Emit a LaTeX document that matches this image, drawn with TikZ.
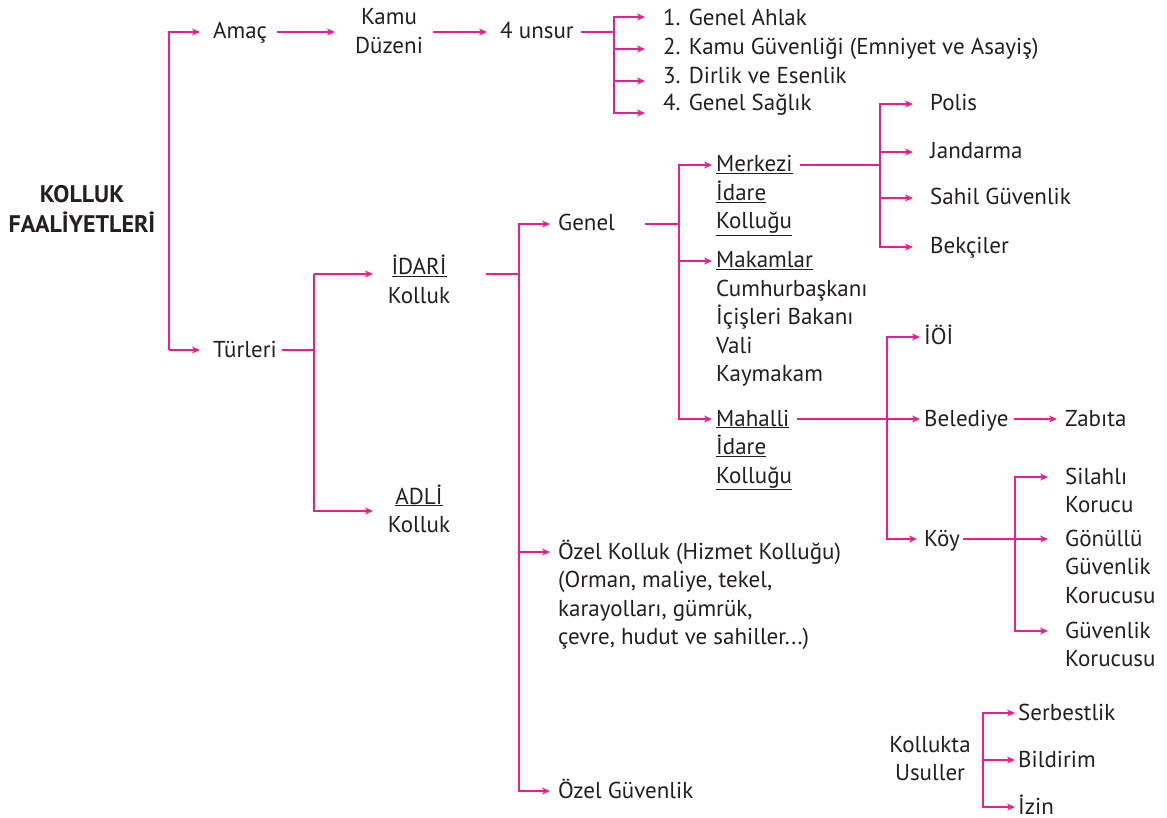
\documentclass[tikz,border=0pt]{standalone}
\usepackage{fontspec}
\setmainfont{PT Sans}
\usetikzlibrary{arrows.meta}
\definecolor{pk}{RGB}{234,30,140}
\definecolor{ink}{RGB}{35,31,32}
\newcommand\mlines[2]{\begin{tabular}[t]{@{}#1@{}}#2\end{tabular}}
\begin{document}
\begin{tikzpicture}[x=1pt,y=-1pt,
  lnk/.style={draw=pk,line width=1.5pt},
  arr/.style={lnk,-{Stealth[length=8pt,width=7pt,inset=2.5pt]}},
  txt/.style={inner sep=0pt,anchor=west,text height=14pt,text depth=0pt,text=ink,font=\fontsize{23}{28.5}\selectfont},
  ctxt/.style={txt,anchor=center}]
\useasboundingbox (0,0) rectangle (1167,818);
% texts
\node[ctxt,font=\bfseries\fontsize{24}{28.5}\selectfont] (title) at (82,196) {\mlines{c}{KOLLUK\\FAALİYETLERİ}};
\node[txt] (amac) at (213,32) {Amaç};
\node[ctxt] (kamu) at (389,18) {\mlines{c}{Kamu\\Düzeni}};
\node[txt] (unsur) at (500,32) {4 unsur};
\node[txt] (i1) at (663,19) {1. Genel Ahlak};
\node[txt] (i2) at (663,48) {2. Kamu Güvenliği (Emniyet ve Asayiş)};
\node[txt] (i3) at (663,77) {3. Dirlik ve Esenlik};
\node[txt] (i4) at (663,104) {4. Genel Sağlık};
\node[txt] (tur) at (213,350) {Türleri};
\node[ctxt] (idari) at (419,268) {\mlines{c}{\underline{İDARİ}\\Kolluk}};
\node[ctxt] (adli) at (419,497) {\mlines{c}{\underline{ADLİ}\\Kolluk}};
\node[txt] (genel) at (558,224) {Genel};
\node[txt] (merkez) at (716,165) {\mlines{l}{\underline{Merkezi}\\\underline{İdare}\\\underline{Kolluğu}}};
\node[txt] (makam) at (716,261) {\mlines{l}{\underline{Makamlar}\\Cumhurbaşkanı\\İçişleri Bakanı\\Vali\\Kaymakam}};
\node[txt] (mahalli) at (716,419) {\mlines{l}{\underline{Mahalli}\\\underline{İdare}\\\underline{Kolluğu}}};
\node[txt] (polis) at (930,104) {Polis};
\node[txt] (jand) at (930,152) {Jandarma};
\node[txt] (sahil) at (930,198) {Sahil Güvenlik};
\node[txt] (bekci) at (930,247) {Bekçiler};
\node[txt] (ioi) at (924,337) {İÖİ};
\node[txt] (bel) at (924,419) {Belediye};
\node[txt] (zab) at (1065,419) {Zabıta};
\node[txt] (koy) at (924,539) {Köy};
\node[txt] (sil) at (1065,477) {\mlines{l}{Silahlı\\Korucu}};
\node[txt] (gon) at (1065,539) {\mlines{l}{Gönüllü\\Güvenlik\\Korucusu}};
\node[txt] (guv) at (1065,631) {\mlines{l}{Güvenlik\\Korucusu}};
\node[txt] (ozel) at (558,552) {\mlines{l}{Özel Kolluk (Hizmet Kolluğu)\\(Orman, maliye, tekel,\\karayolları, gümrük,\\çevre, hudut ve sahiller...)}};
\node[txt] (ozg) at (558,791) {Özel Güvenlik};
\node[ctxt] (usul) at (930,745) {\mlines{c}{Kollukta\\Usuller}};
\node[txt] (serb) at (1018,713) {Serbestlik};
\node[txt] (bild) at (1018,760) {Bildirim};
\node[txt] (izin) at (1018,807) {İzin};
% junctions and tips
\coordinate (rj) at (169,350);
\coordinate (uj) at (614,32);
\coordinate (u1) at (645,17);
\coordinate (u2) at (645,49);
\coordinate (u3) at (645,81);
\coordinate (u4) at (645,113);
\coordinate (tj) at (314,274);
\coordinate (ti) at (373,274);
\coordinate (ta) at (373,511);
\coordinate (ij) at (519,274);
\coordinate (gj) at (679,224);
\coordinate (mj) at (880,165);
\coordinate (hj) at (887,419);
\coordinate (kj) at (1015,539);
\coordinate (sj) at (983,760);
% connectors
\draw[arr] (rj) |- ([xshift=-13pt]amac.west);
\draw[arr] (rj) -- ([xshift=-13pt]tur.west);
\draw[arr] ([xshift=10pt]amac.east) -- ([xshift=-20pt]kamu.west |- amac.east);
\draw[arr] ([xshift=10pt]kamu.east |- unsur.west) -- ([xshift=-13pt]unsur.west);
\draw[lnk] ([xshift=7pt]unsur.east) -- (uj);
\draw[arr] (uj) |- (u1);
\draw[arr] (uj |- u2) -- (u2);
\draw[arr] (uj |- u3) -- (u3);
\draw[arr] (uj) |- (u4);
\draw[lnk] ([xshift=5pt]tur.east) -- (tur.east -| tj) -- (tj);
\draw[arr] (tj) -- (ti);
\draw[arr] (tur.east -| tj) |- (ta);
\draw[lnk] ([xshift=36pt]idari.east |- ij) -- (ij);
\draw[arr] (ij) |- ([xshift=-8pt]genel.west);
\draw[arr] (ij) |- ([xshift=-8pt]ozel.west);
\draw[arr] (ij) |- ([xshift=-8pt]ozg.west);
\draw[lnk] ([xshift=30pt]genel.east) -- (gj);
\draw[arr] (gj) |- ([xshift=-4pt]merkez.west);
\draw[arr] (gj) |- ([xshift=-4pt]makam.west);
\draw[arr] (gj) |- ([xshift=-4pt]mahalli.west);
\draw[lnk] ([xshift=7pt]merkez.east) -- (mj);
\draw[arr] (mj) |- ([xshift=-17pt]polis.west);
\draw[arr] (mj |- jand.west) -- ([xshift=-17pt]jand.west);
\draw[arr] (mj |- sahil.west) -- ([xshift=-17pt]sahil.west);
\draw[arr] (mj) |- ([xshift=-17pt]bekci.west);
\draw[arr] ([xshift=5pt]mahalli.east) -- ([xshift=-4pt]bel.west);
\draw[arr] (hj) |- ([xshift=-4pt]ioi.west);
\draw[arr] (hj) |- ([xshift=-7pt]koy.west);
\draw[arr] ([xshift=5pt]bel.east) -- ([xshift=-8pt]zab.west);
\draw[arr] ([xshift=3pt]koy.east) -- ([xshift=-17pt]gon.west);
\draw[arr] (kj) |- ([xshift=-17pt]sil.west);
\draw[arr] (kj) |- ([xshift=-17pt]guv.west);
\draw[arr] (sj) |- ([xshift=-3pt]serb.west);
\draw[arr] (sj) -- ([xshift=-3pt]bild.west);
\draw[arr] (sj) |- ([xshift=-3pt]izin.west);
\end{tikzpicture}
\end{document}
